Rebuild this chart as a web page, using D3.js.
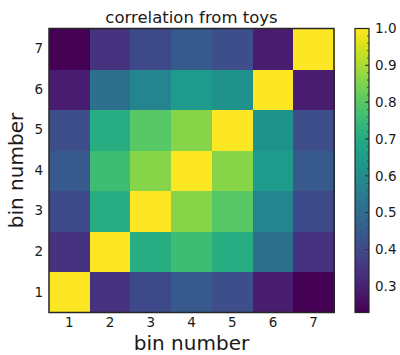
<!DOCTYPE html>
<html>
<head>
<meta charset="utf-8">
<script src="https://cdn.jsdelivr.net/npm/d3@7"></script>
<style>
  html, body { margin: 0; padding: 0; background: #fff; }
  svg { display: block; }
  text { font-family: "DejaVu Sans", sans-serif; fill: #1a1a1a; }
</style>
</head>
<body>
<svg id="chart" width="400" height="355"></svg>
<script>
// Bin labels along both axes
const bins = [1, 2, 3, 4, 5, 6, 7];

// Correlation matrix rows, row k = bin k (symmetric)
const row1 = [1.00, 0.34, 0.40, 0.44, 0.41, 0.29, 0.23];
const row2 = [0.34, 1.00, 0.71, 0.76, 0.71, 0.51, 0.34];
const row3 = [0.40, 0.71, 1.00, 0.86, 0.80, 0.58, 0.40];
const row4 = [0.44, 0.76, 0.86, 1.00, 0.86, 0.65, 0.44];
const row5 = [0.41, 0.71, 0.80, 0.86, 1.00, 0.62, 0.41];
const row6 = [0.29, 0.51, 0.58, 0.65, 0.62, 1.00, 0.29];
const row7 = [0.23, 0.34, 0.40, 0.44, 0.41, 0.29, 1.00];
const rows = [row1, row2, row3, row4, row5, row6, row7];

// Colour range and colourbar ticks
const colorMin = 0.229, colorMax = 1.0;
const cbTicks = [0.3, 0.4, 0.5, 0.6, 0.7, 0.8, 0.9, 1.0];

const svg = d3.select("#chart");
const plot = { left: 49, right: 334, top: 28.5, bottom: 312.5 };
const cb = { left: 355, right: 369, top: 28.5, bottom: 312.5 };

const x = d3.scaleBand().domain(bins).range([plot.left, plot.right]).padding(0);
const y = d3.scaleBand().domain(bins).range([plot.bottom, plot.top]).padding(0);
const color = d3.scaleSequential(d3.interpolateViridis).domain([colorMin, colorMax]);

// Heatmap cells
const cells = [];
rows.forEach((r, i) => r.forEach((v, j) => cells.push({ row: bins[i], col: bins[j], v })));
svg.append("g").selectAll("rect").data(cells).join("rect")
  .attr("x", d => x(d.col))
  .attr("y", d => y(d.row))
  .attr("width", x.bandwidth() + 0.5)
  .attr("height", y.bandwidth() + 0.5)
  .attr("fill", d => color(d.v))
  .attr("shape-rendering", "crispEdges");

// Frame
svg.append("rect")
  .attr("x", plot.left).attr("y", plot.top)
  .attr("width", plot.right - plot.left).attr("height", plot.bottom - plot.top)
  .attr("fill", "none").attr("stroke", "#262626").attr("stroke-width", 1.5);

// Axes
const xAxis = svg.append("g").attr("transform", `translate(0,${plot.bottom})`)
  .call(d3.axisBottom(x).tickSize(0).tickPadding(5));
const yAxis = svg.append("g").attr("transform", `translate(${plot.left},0)`)
  .call(d3.axisLeft(y).tickSize(0).tickPadding(6));
[xAxis, yAxis].forEach(g => {
  g.select(".domain").remove();
  g.selectAll("text").attr("font-size", 13.5).attr("fill", "#1a1a1a")
    .attr("font-family", "DejaVu Sans, sans-serif");
});

// Title and axis titles
svg.append("text")
  .attr("x", (plot.left + plot.right) / 2).attr("y", 22.5)
  .attr("text-anchor", "middle").attr("font-size", 16.5)
  .text("correlation from toys");
svg.append("text")
  .attr("x", (plot.left + plot.right) / 2).attr("y", 350)
  .attr("text-anchor", "middle").attr("font-size", 20)
  .text("bin number");
svg.append("text")
  .attr("transform", `translate(23,${(plot.top + plot.bottom) / 2}) rotate(-90)`)
  .attr("text-anchor", "middle").attr("font-size", 20)
  .text("bin number");

// Colourbar
const cbY = d3.scaleLinear().domain([colorMin, colorMax]).range([cb.bottom, cb.top]);
const defs = svg.append("defs");
const grad = defs.append("linearGradient").attr("id", "cbgrad")
  .attr("x1", 0).attr("y1", 1).attr("x2", 0).attr("y2", 0);
d3.range(0, 1.0001, 0.05).forEach(t => {
  grad.append("stop").attr("offset", t).attr("stop-color", d3.interpolateViridis(t));
});
svg.append("rect")
  .attr("x", cb.left).attr("y", cb.top)
  .attr("width", cb.right - cb.left).attr("height", cb.bottom - cb.top)
  .attr("fill", "url(#cbgrad)");

// Minor and major ticks drawn inward from the right edge
const minor = d3.range(0.24, 1.0001, 0.02).filter(v => v <= colorMax + 1e-9);
svg.append("g").selectAll("line").data(minor).join("line")
  .attr("x1", cb.right).attr("x2", cb.right - 2)
  .attr("y1", d => cbY(d)).attr("y2", d => cbY(d))
  .attr("stroke", "#333").attr("stroke-width", 0.8);
svg.append("g").selectAll("line").data(cbTicks).join("line")
  .attr("x1", cb.right).attr("x2", cb.right - 4)
  .attr("y1", d => cbY(d)).attr("y2", d => cbY(d))
  .attr("stroke", "#333").attr("stroke-width", 1);
svg.append("g").selectAll("text").data(cbTicks).join("text")
  .attr("x", cb.right + 6).attr("y", d => cbY(d)).attr("dy", "0.35em")
  .attr("font-size", 13.5)
  .text(d => d3.format(".1f")(d));

svg.append("rect")
  .attr("x", cb.left).attr("y", cb.top)
  .attr("width", cb.right - cb.left).attr("height", cb.bottom - cb.top)
  .attr("fill", "none").attr("stroke", "#262626").attr("stroke-width", 1.2);
</script>
</body>
</html>
